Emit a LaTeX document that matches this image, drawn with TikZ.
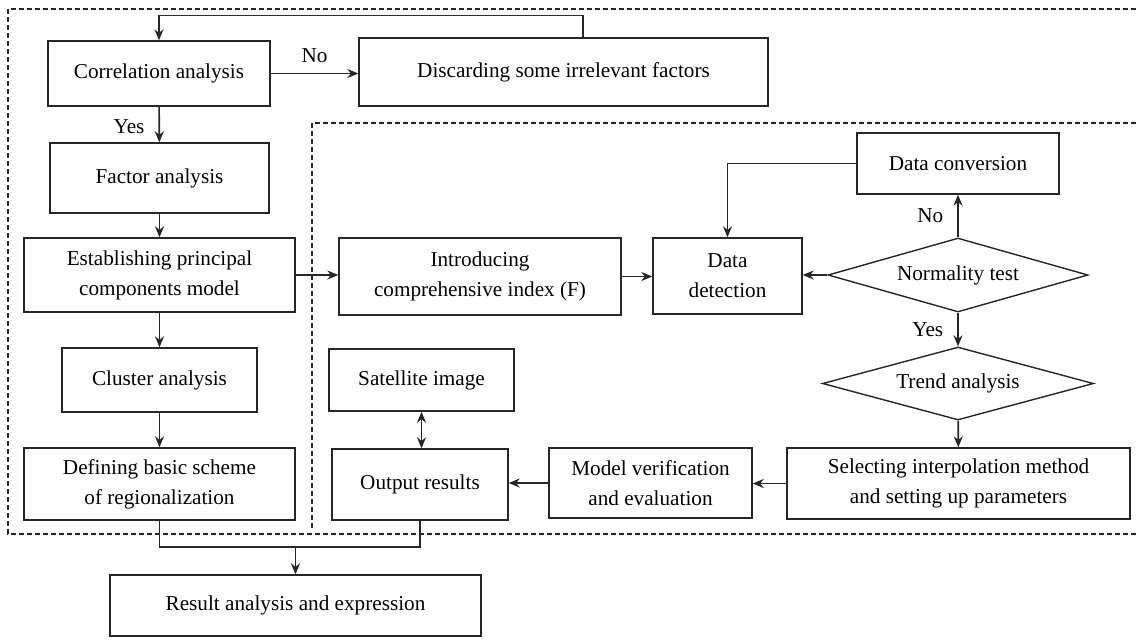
\documentclass[tikz,border=0pt]{standalone}
\usepackage{fontspec}
\setmainfont{Liberation Serif}
\usetikzlibrary{shapes.geometric,arrows.meta}
\tikzstyle{proc} = [draw=black!85,line width=0.7pt,align=center,inner sep=2pt,
    font=\fontsize{10.6}{15}\selectfont]
\tikzstyle{decide} = [draw=black!85,diamond,aspect=3.5,inner sep=0pt,line width=0.7pt,
    font=\fontsize{10.6}{15}\selectfont]
\tikzstyle{flow} = [draw=black!85,-{Stealth[length=5.5pt,width=4.5pt]},line width=0.8pt]
\tikzstyle{lbl} = [inner sep=1pt,font=\fontsize{10.6}{12}\selectfont]
\tikzstyle{region} = [draw=black!85,dash pattern=on 2.5pt off 1.5pt,line width=0.6pt]

\begin{document}
\begin{tikzpicture}[x=0.5pt,y=-0.5pt]
    \useasboundingbox (0,0) rectangle (1136,639);

    % left column
    \node(corr) at (159,73.5) [proc,minimum width=111pt,minimum height=32.5pt] {Correlation analysis};
    \node(disc) at (563.5,72) [proc,minimum width=204.5pt,minimum height=34pt] {Discarding some irrelevant factors};
    \node(factor) at (159.5,178) [proc,minimum width=109.5pt,minimum height=35pt] {Factor analysis};
    \node(estab) at (159.5,275) [proc,minimum width=135.5pt,minimum height=37pt] {Establishing principal\\components model};
    \node(cluster) at (159.5,380) [proc,minimum width=97.5pt,minimum height=32pt] {Cluster analysis};
    \node(define) at (159.5,484) [proc,minimum width=135.5pt,minimum height=36pt] {Defining basic scheme\\of regionalization};
    \node(result) at (295.5,605.5) [proc,minimum width=185.5pt,minimum height=30.5pt] {Result analysis and expression};

    % right part
    \node(intro) at (480,276.5) [proc,minimum width=141pt,minimum height=38.5pt] {Introducing\\comprehensive index (F)};
    \node(detect) at (727.5,276) [proc,minimum width=74.5pt,minimum height=38pt] {Data\\detection};
    \node(normal) at (958,275) [decide,minimum width=130pt,minimum height=37pt] {Normality test};
    \node(convert) at (958,163.5) [proc,minimum width=101pt,minimum height=30.5pt] {Data conversion};
    \node(trend) at (958,383.5) [decide,minimum width=135.5pt,minimum height=36.5pt] {Trend analysis};
    \node(select) at (958.5,483.5) [proc,minimum width=171.5pt,minimum height=35.5pt] {Selecting interpolation method\\and setting up parameters};
    \node(model) at (650.5,483) [proc,minimum width=101.5pt,minimum height=35pt] {Model verification\\and evaluation};
    \node(output) at (420,484.5) [proc,minimum width=88pt,minimum height=35.5pt] {Output results};
    \node(sat) at (421.5,380) [proc,minimum width=92.5pt,minimum height=31pt] {Satellite image};

    \coordinate(back) at (583,15.5);
    \coordinate(join) at (295.5,547);

    \draw[flow] (corr.east) -- node[lbl,above=4pt] {No} (corr.east -| disc.west);
    \draw[flow] (disc.north -| back) -- (back) -| (corr.north);
    \draw[flow] (corr) -- node[lbl,left=6pt,pos=0.55] {Yes} (factor);
    \draw[flow] (factor) -- (estab);
    \draw[flow] (estab) -- (cluster);
    \draw[flow] (cluster) -- (define);
    \draw[flow] (estab.east) -- (estab.east -| intro.west);
    \draw[flow] (intro.east) -- (intro.east -| detect.west);
    \draw[flow] (normal.west) -- (normal.west -| detect.east);
    \draw[flow] (normal) -- node[lbl,left=6pt] {No} (convert);
    \draw[flow] (convert.west) -| (detect.north);
    \draw[flow] (normal) -- node[lbl,left=6pt] {Yes} (trend);
    \draw[flow] (trend) -- (select);
    \draw[flow] (select.west) -- (select.west -| model.east);
    \draw[flow] (model.west) -- (model.west -| output.east);
    \draw[flow,{Stealth[length=5.5pt,width=4.5pt]}-{Stealth[length=5.5pt,width=4.5pt]}] (sat.south) -- (sat.south |- output.north);
    \draw[draw=black!85,line width=0.8pt] (define.south) |- (join) -| (output.south);
    \draw[flow] (join) -- (result.north);

    % dashed regions
    \draw[region] (1136,9) -| (8,534) -- (1136,534);
    \draw[region] (1136,123) -| (312,529);
\end{tikzpicture}
\end{document}
